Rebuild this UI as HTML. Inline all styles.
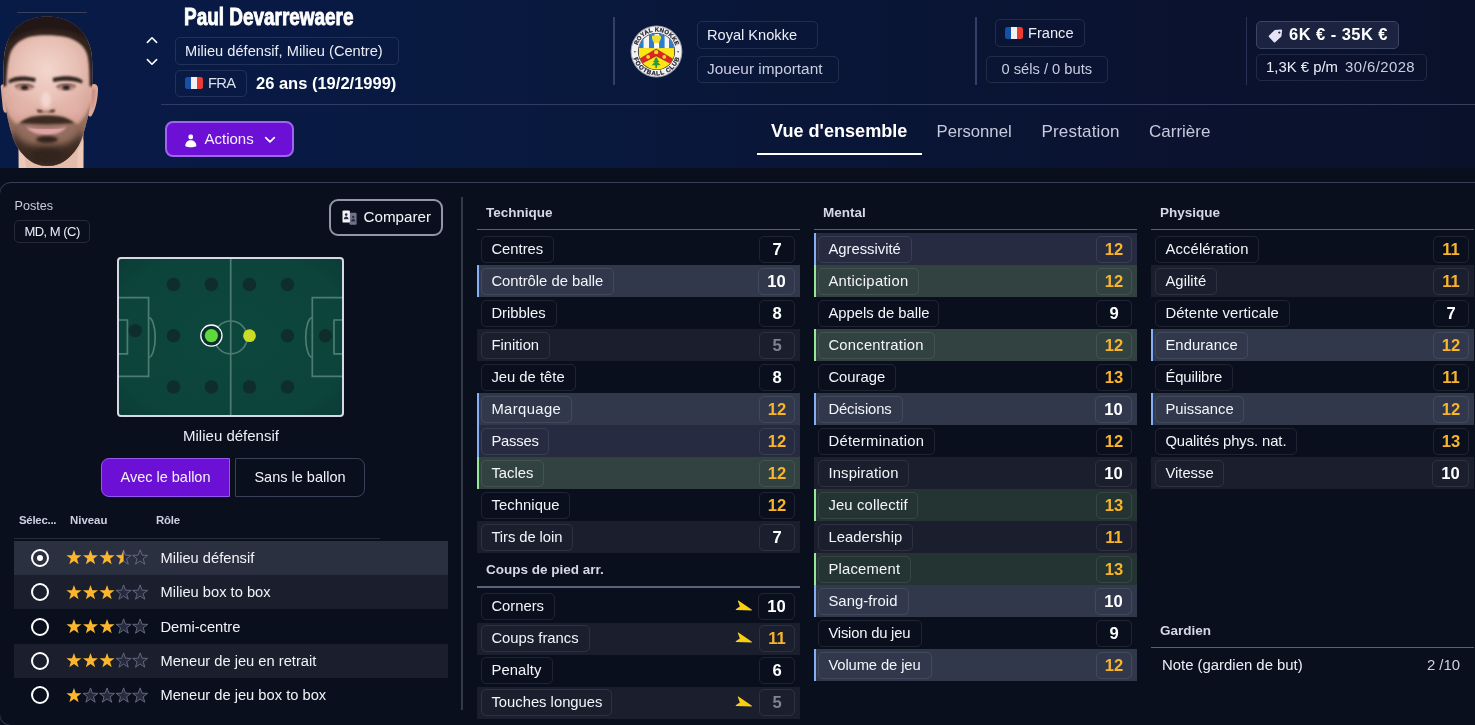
<!DOCTYPE html>
<html lang="fr"><head><meta charset="utf-8"><title>Paul Devarrewaere</title>
<style>
*{box-sizing:border-box;margin:0;padding:0}
html,body{width:1475px;height:725px;overflow:hidden;background:#0a0f1d;font-family:"Liberation Sans",sans-serif;color:#f2f3f8;font-size:14.8px}
.abs{position:absolute}
#wrap{position:absolute;left:0;top:0;width:1475px;height:725px;will-change:transform;overflow:hidden}
#hdr{position:absolute;left:0;top:0;width:1475px;height:168px;background:linear-gradient(90deg,#081b47 0%,#081a43 22%,#09173a 48%,#0a1331 75%,#0a112b 100%)}
.pill{position:absolute;border:1px solid rgba(255,255,255,.10);border-radius:5px;white-space:nowrap;display:flex;align-items:center;padding-left:9px;color:#eceef6}
.vdiv{position:absolute;top:17px;width:2px;height:68px;background:#333f68}
#hline{position:absolute;left:161px;top:104px;width:1314px;height:1px;background:linear-gradient(90deg,#2f3b64,#363f5e)}
#panel{position:absolute;left:-1px;top:182px;width:1480px;height:544px;border:1px solid #3a3f55;border-radius:12px 0 0 12px;background:#0a0f1d}
.col{position:absolute;top:197px;width:323px}
.col h3{position:absolute;left:9px;top:9px;font-size:13.5px;font-weight:700;color:#d5d8e8;white-space:nowrap}
.col .ln{position:absolute;left:0;top:32px;width:100%;height:1px;background:#5c6078}
.rows{position:absolute;left:0;top:36px;width:100%}
.r{position:relative;height:32px;width:100%}
.r.a{background:#1a1e2d}
.r.b{background:#262b41}.r.b.a{background:#31384c}
.r.g{background:#243432}.r.g.a{background:#324240}
.r.b:before,.r.g:before{content:"";position:absolute;left:0;top:0;width:2px;height:100%;background:#86aef5}
.r.g:before{background:#98e69a}
.r .n{position:absolute;left:4px;top:3px;height:27px;border:1px solid rgba(255,255,255,.09);border-radius:5px;padding:0 0 0 9.4px;line-height:24px;white-space:nowrap;color:#f4f5fa;overflow:hidden}
.r .v{position:absolute;right:5px;top:3px;width:36px;height:27px;border:1px solid rgba(255,255,255,.09);border-radius:5px;text-align:center;line-height:25.2px;font-weight:700;font-size:16.6px;color:#fff}
.r .v.o{color:#f8b42b}
.r .v.d{color:#7f8494}

.col h3{top:8px}
.gk{position:absolute;left:11px;top:457px;width:298px;display:flex;justify-content:space-between;color:#eceef6;line-height:22px;font-size:14.9px}
.gk .gv{color:#cfd2e0}
.ar{position:absolute;left:258px;top:9px;width:18px;height:12px;fill:#f8cf12}
.sp .n,.sp .v{top:2px;height:27px;line-height:24.6px}
.sp .v{line-height:26.4px}
#name{position:absolute;left:184px;top:2px;font-size:24px;font-weight:700;line-height:30px;color:#fff;transform:scaleX(.789);transform-origin:0 0;white-space:nowrap;letter-spacing:0;-webkit-text-stroke:.9px #fff}
.chev{position:absolute;fill:none;stroke:#fff;stroke-width:1.6;stroke-linecap:round;stroke-linejoin:round}
.flag{display:inline-block;width:18px;height:12px;border-radius:2.5px;background:linear-gradient(90deg,#1450a8 0 33%,#f1f1f4 33% 66%,#ec3b33 66% 100%);margin-right:5px;flex:none}
#age{position:absolute;left:256px;top:72px;font-size:16.5px;font-weight:700;line-height:22px;white-space:nowrap;color:#fff}
#actions{position:absolute;left:165px;top:121px;width:129px;height:36px;border:2px solid #a163f0;border-radius:8px;background:#6c10d6}
#actions span{position:absolute;left:37.5px;top:6px;line-height:20px;font-size:15px;color:#f4efff}
.tab{position:absolute;top:120px;line-height:24px;font-size:17px;color:#c6cadc;white-space:nowrap}
.tab.on{font-weight:700;font-size:18.1px;color:#fff;top:118.8px}
#tabln{position:absolute;left:757px;top:153px;width:165px;height:2px;background:#fff}
.dim{color:#c9cde0}
#postes{position:absolute;left:14.5px;top:197.7px;font-size:12.6px;line-height:16px;color:#c8ccdc}
#mdpill{left:14px;top:220px;width:75.5px;height:23px;font-size:13px;letter-spacing:-.5px;padding-left:9.4px;border-color:rgba(255,255,255,.11)}
#cmp{position:absolute;left:329px;top:199px;width:114px;height:37px;border:2px solid #9396ab;border-radius:9px}
#cmp span{position:absolute;left:32.5px;top:5.6px;font-size:15.2px;line-height:20px;color:#f4f5fa}
#pitch{position:absolute;left:117px;top:257px;width:227px;height:160px}
#plabel{position:absolute;left:131px;width:200px;top:425px;text-align:center;line-height:22px;font-size:15px;color:#eceef6}
.btn{position:absolute;top:458px;height:39px;line-height:37px;text-align:center;font-size:14.5px;color:#f2f3f8;border:1px solid #3b4056}
#b1{left:101px;width:129px;background:#6c10d6;border-color:#9556f2;border-radius:8px 0 0 8px}
#b2{left:235px;width:130px;border-radius:0 8px 8px 0}
.th{position:absolute;top:512px;line-height:16px;font-size:11.4px;font-weight:700;color:#cdd0e2;white-space:nowrap}
#thln{position:absolute;left:14px;top:538px;width:366px;height:1px;background:#272c3c}
.rr{position:absolute;left:14px;width:434px;height:34.35px}
.rr.a{background:#1a1e2d}.rr.s{background:#2b3040}
.rr .rad{position:absolute;left:17px;top:8px;width:18px;height:18px;border:2px solid #fff;border-radius:50%}
.rr.s .rad:after{content:"";position:absolute;left:4px;top:4px;width:6px;height:6px;border-radius:50%;background:#fff}
.rr .st{position:absolute;left:52px;top:8.5px;width:84px;height:17px}
.rr .nm{position:absolute;left:146.4px;top:6px;line-height:22px;font-size:14.7px;color:#f2f3f8;white-space:nowrap}
#scr{position:absolute;left:461px;top:197px;width:2px;height:513px;background:#33384b}
</style></head><body>
<div id="wrap">
<div id="hdr">
<div id="hline"></div>
<div class="abs" style="left:17px;top:12px;width:70px;height:1px;background:rgba(200,170,160,.26)"></div>
<!--FACE_START--><svg id="face" class="abs" style="left:0;top:0" width="110" height="168" viewBox="0 0 110 168">
<defs>
<filter id="f1" x="-20%" y="-20%" width="140%" height="140%"><feGaussianBlur stdDeviation="0.8"/></filter>
<filter id="f2" x="-30%" y="-30%" width="160%" height="160%"><feGaussianBlur stdDeviation="1.8"/></filter>
<filter id="f3" x="-40%" y="-40%" width="180%" height="180%"><feGaussianBlur stdDeviation="3.5"/></filter>
<filter id="f4" x="-30%" y="-30%" width="160%" height="160%"><feGaussianBlur stdDeviation="1.2"/></filter><clipPath id="fclip"><rect x="0" y="0" width="110" height="168"/></clipPath>
<clipPath id="head"><path d="M47 16.6 C 22 16.6 5.5 33 4 58 C 3.2 72 3 88 4.5 100 C 6 112 9 126 13 138 C 17 149 24 157 32 162 C 38 165.5 43 166 47.5 166 C 52 166 57 165.5 63 162 C 71 157 78 149 82 138 C 86 126 89.5 112 91 100 C 92.5 88 92.6 72 92 58 C 90.5 33 72 16.6 47 16.6Z"/></clipPath>
<radialGradient id="sk" cx="47" cy="70" r="60" gradientUnits="userSpaceOnUse"><stop offset="0" stop-color="#f2d6cd"/><stop offset=".5" stop-color="#e8c0b5"/><stop offset="1" stop-color="#d3a092"/></radialGradient>
</defs>
<g clip-path="url(#fclip)">
<path d="M18.6 130 L18.8 168 L83.3 168 L83.4 130Z" fill="#e4bcab"/>
<path d="M18.6 140 L18.8 168 L26 168 L24 150Z M83.4 140 L83.3 168 L77 168 L78 150Z" fill="#efc9b8"/>
<path d="M0.8 88 C 0 84 4 83 5.5 86 L7 112 C 5 114 3.5 112 2.8 108Z" fill="#d9a596"/>
<path d="M89 88 C 92 82 98.5 83 98 90 C 97.6 100 95.5 110 91.5 116 C 89.5 117.5 88 116 88 114Z" fill="#dda999"/>
<path d="M91.5 90 C 94 87 96 89 95.5 93 C 95 100 93.5 106 91.5 110Z" fill="#c98f82" filter="url(#f1)"/>
<g clip-path="url(#head)">
<rect x="0" y="10" width="100" height="160" fill="url(#sk)"/>
<ellipse cx="22" cy="108" rx="11" ry="9" fill="#e7b4ae" opacity=".55" filter="url(#f3)"/>
<ellipse cx="72" cy="108" rx="11" ry="9" fill="#e7b4ae" opacity=".55" filter="url(#f3)"/>
<!-- hair -->
<path d="M-2 88 L-2 10 L100 10 L100 88 L89.4 86 C 89.6 76 89.2 64 87.6 56 C 85.6 47 78 40 66 37 C 57 35 40 34.6 31 36.6 C 20 39 12 46 9.4 56 C 7.4 64 6.4 76 6.4 86Z" fill="#30241f" filter="url(#f4)"/>
<path d="M-2 52 L-2 10 L100 10 L100 52 C 93 41 81 33 63 30 C 51 28.6 38 29 30 31 C 17 34 7 41 -2 52Z" fill="#221916" filter="url(#f1)"/>
<!-- beard -->
<path d="M3 102 C 6 112 10 119 16 124 C 22 122.4 26 118.4 32 116.8 C 40 115 54 115 62 116.8 C 68 118.4 72 122.4 78 124 C 84 119 88 112 92 102 L 93 170 L 2 170Z" fill="#7a5a4b" opacity=".72" filter="url(#f2)"/>
<path d="M12 128 C 18 142 28 146 47 146 C 66 146 76 142 82 128 L 86 170 L 8 170Z" fill="#3d2a22" filter="url(#f3)"/>
<path d="M19.5 123.4 C 25 118.2 34 115.8 47 115.8 C 60 115.8 69 118.2 74.5 123.4 C 68 123 58 124.2 47 124.2 C 36 124.2 26 123 19.5 123.4Z" fill="#3b2922" filter="url(#f1)"/>
<path d="M26 125.8 C 34 127.6 40 128 46.5 128 C 53 128 59 127.6 67 125.8 C 64 132.4 55.5 135 46.5 135 C 37.5 135 29 132.4 26 125.8Z" fill="#dca4a5" filter="url(#f1)"/>
<path d="M26 126 C 36 128.6 57 128.6 67 126" stroke="#94605a" stroke-width="1.4" fill="none" filter="url(#f1)"/>
<ellipse cx="47" cy="139.5" rx="11" ry="3.4" fill="#33231d" filter="url(#f2)"/>
<ellipse cx="47" cy="156" rx="16" ry="8" fill="#2f201a" opacity=".8" filter="url(#f3)"/>
</g>
<!-- brows -->
<path d="M8.4 80.6 C 13 76 24 75.2 35.6 78 L 35.2 82 C 25 79.8 15 80.4 9.2 83.4Z" fill="#2e201c" filter="url(#f1)"/>
<path d="M52.8 78 C 64 75 77 75.6 82.8 80.8 L 81.8 83.4 C 75 80 64 80 53.2 82Z" fill="#2e201c" filter="url(#f1)"/>
<!-- eyes -->
<ellipse cx="24.4" cy="87.2" rx="9.4" ry="3.6" fill="#b88a82" filter="url(#f1)"/>
<ellipse cx="66" cy="87.2" rx="9.4" ry="3.6" fill="#b88a82" filter="url(#f1)"/>
<ellipse cx="24.6" cy="87.5" rx="3.6" ry="2.5" fill="#2c1f1e" filter="url(#f1)"/>
<ellipse cx="66.2" cy="87.5" rx="3.6" ry="2.5" fill="#2c1f1e" filter="url(#f1)"/>
<path d="M15 86.2 C 20 83.6 29 83.8 34 87" stroke="#5b3d38" stroke-width="1.2" fill="none" filter="url(#f1)"/>
<path d="M56.5 87 C 61 83.8 70 83.6 76 86.2" stroke="#5b3d38" stroke-width="1.2" fill="none" filter="url(#f1)"/>
<!-- nose -->
<path d="M36.5 108 C 37 113 42 113 45.5 112.6 C 49 113 54.5 113 55 108 C 52 111 49 111.4 45.5 111.2 C 42 111.4 39.5 111 36.5 108Z" fill="#8e5f58" filter="url(#f1)"/>
<ellipse cx="39.8" cy="111.2" rx="2.6" ry="1.4" fill="#5a3732" filter="url(#f1)"/>
<ellipse cx="52.4" cy="111.2" rx="2.6" ry="1.4" fill="#5a3732" filter="url(#f1)"/>
<ellipse cx="46" cy="100" rx="5" ry="8" fill="#f6dcd6" opacity=".8" filter="url(#f2)"/>
</g></svg><!--FACE_END-->
<div id="name">Paul Devarrewaere</div>
<svg class="chev" style="left:146px;top:36px" width="12" height="8" viewBox="0 0 12 8"><path d="M1.4 6.4 L6 1.8 L10.6 6.4"/></svg>
<svg class="chev" style="left:146px;top:58px" width="12" height="8" viewBox="0 0 12 8"><path d="M1.4 1.6 L6 6.2 L10.6 1.6"/></svg>
<div class="pill" style="left:175px;top:37px;width:224px;height:27.5px;font-size:14.65px">Milieu défensif, Milieu (Centre)</div>
<div class="pill" style="left:175px;top:70px;width:72px;height:26.5px;color:#dcdfec;letter-spacing:-.7px"><i class="flag"></i>FRA</div>
<div id="age">26 ans (19/2/1999)</div>
<div id="actions"><svg class="abs" style="left:17px;top:10px" width="14" height="15" viewBox="0 0 14 15"><rect x="4.5" y="1.6" width="4.5" height="4.6" rx="1.7" fill="#fff"/><path d="M1.2 12.9 C1.4 9.2 3.8 7.2 6.8 7.2 C9.8 7.2 12.2 9.2 12.4 12.9 C10.8 13.9 8.6 14.2 6.8 14.2 C5 14.2 2.8 13.9 1.2 12.9Z" fill="#fff"/></svg><span>Actions</span><svg class="chev" style="left:96.5px;top:13px" width="12" height="8" viewBox="0 0 12 8"><path d="M1.7 1.6 L6 5.9 L10.3 1.6" stroke-width="1.7"/></svg></div>
<div class="vdiv" style="left:613px"></div>
<!--LOGO_START--><svg class="abs" style="left:628px;top:23px" width="57" height="57" viewBox="-28.5 -28.5 57 57">
<defs><clipPath id="lc"><circle r="18"/></clipPath><filter id="lb" x="-10%" y="-10%" width="120%" height="120%"><feGaussianBlur stdDeviation="0.35"/></filter>
<path id="tp1" d="M-19.9 0 A19.9 19.9 0 0 1 19.9 0"/><path id="tp2" d="M-23.9 0 A23.9 23.9 0 0 0 23.9 0"/></defs>
<g filter="url(#lb)">
<circle r="25.9" fill="#9a9ca8"/><circle r="24.9" fill="#f2f2f4"/>
<circle r="18.6" fill="#2a2a30"/>
<g clip-path="url(#lc)">
<rect x="-18" y="-18" width="36" height="15" fill="#f4f4f6"/>
<rect x="-18" y="-18" width="5" height="15" fill="#2a7ccc"/><rect x="-7.5" y="-18" width="5.5" height="15" fill="#2a7ccc"/><rect x="2.6" y="-18" width="5.5" height="15" fill="#2a7ccc"/><rect x="12.5" y="-18" width="6" height="15" fill="#2a7ccc"/>
<rect x="-18" y="-3.4" width="36" height="22" fill="#ffe412"/>
<path d="M-0.3 -2.6 L17.5 8.2 L15.2 12.6 L-0.3 4.4 L-15.8 12.6 L-18.1 8.2Z" fill="#e0202c" stroke="#5a2a20" stroke-width=".5"/>
<circle cx="-0.3" cy="0.7" r="2.1" fill="#ffd81a"/><circle cx="-8.4" cy="5.4" r="1.9" fill="#ffd81a"/><circle cx="7.8" cy="5.4" r="1.9" fill="#ffd81a"/>
<path d="M-0.3 5.6 L1.6 8 L0.8 8 L3 10.6 L1.2 10.6 L4.2 13.8 L0.6 13.8 L0.6 16.6 L-1.2 16.6 L-1.2 13.8 L-4.8 13.8 L-1.8 10.6 L-3.6 10.6 L-1.4 8 L-2.2 8Z" fill="#2a9a3c"/>
<path d="M-4.6 -14.6 C-4.6 -16 -2.8 -16.4 -2.2 -15.4 C-1.6 -16.8 1 -16.8 1.6 -15.4 C2.2 -16.4 4.6 -16 4.6 -14.4 C4.6 -11.8 3 -10.6 2.4 -8.6 L-2.6 -8.6 C-3.2 -10.6 -4.6 -11.8 -4.6 -14.6Z" fill="#f3e02c"/>
<rect x="-2.4" y="-8.6" width="4.6" height="5.4" fill="#fafafa"/>
</g>
<g font-family="Liberation Sans" font-weight="700" fill="#26262e" stroke="#26262e" stroke-width=".25" text-rendering="geometricPrecision">
<text font-size="5.9" letter-spacing=".25"><textPath href="#tp1" startOffset="6.2">ROYAL KNOKKE</textPath></text>
<text font-size="6.2" letter-spacing=".72"><textPath href="#tp2" startOffset="6.7">FOOTBALL CLUB</textPath></text>
</g>
<circle cx="-21.6" cy="0.3" r=".8" fill="#2b2b33"/><circle cx="21.6" cy="0.3" r=".8" fill="#2b2b33"/>
</g></svg><!--LOGO_END-->
<div class="pill" style="left:697px;top:21px;width:121px;height:27.5px;font-size:14.6px">Royal Knokke</div>
<div class="pill dim" style="left:697px;top:56px;width:142px;height:26.5px;font-size:15.4px">Joueur important</div>
<div class="vdiv" style="left:975px"></div>
<div class="pill" style="left:995px;top:19px;width:90px;height:27.5px;font-size:14.65px"><i class="flag"></i>France</div>
<div class="pill dim" style="left:986px;top:56px;width:122px;height:26.5px;font-size:14.7px;padding-left:14.5px">0 séls / 0 buts</div>
<div class="vdiv" style="left:1246px;width:1px;background:#273052"></div>
<div class="pill" style="left:1256px;top:21px;width:143px;height:27.5px;background:#1b2340;border-color:#3b4564;font-weight:700;font-size:16.5px;letter-spacing:.45px;color:#fff;padding-left:32px"><svg class="abs" style="left:10.5px;top:7px" width="15" height="14" viewBox="0 0 15 14"><path d="M6.8 1.1 L13 0.6 C13.7 0.55 14.2 1.1 14.1 1.8 L13.4 7.6 L7.2 13.2 C6.7 13.6 6 13.6 5.6 13.1 L1 8 C0.6 7.5 0.6 6.8 1.1 6.4 Z M11.3 2.4 a1.1 1.1 0 1 0 .01 0Z" fill="#e6e2f8" fill-rule="evenodd"/></svg>6K € - 35K €</div>
<div class="pill" style="left:1256px;top:54px;width:171px;height:26.5px;font-size:14.9px">1,3K € p/m<span class="dim" style="margin-left:7px;letter-spacing:.42px">30/6/2028</span></div>
<div class="tab on" style="left:771px">Vue d'ensemble</div><div id="tabln"></div>
<div class="tab" style="left:936.5px;font-size:16.7px">Personnel</div>
<div class="tab" style="left:1041.5px;letter-spacing:.17px">Prestation</div>
<div class="tab" style="left:1149px">Carrière</div>
</div>
<div id="panel"></div>
<!--LEFT_START-->
<div id="postes">Postes</div>
<div class="pill" id="mdpill">MD, M (C)</div>
<div id="cmp"><svg class="abs" style="left:10.5px;top:9px" width="16" height="16" viewBox="0 0 16 16"><rect x="7.4" y="2.8" width="7.2" height="12" rx="1.2" fill="#6f7388"/><rect x="0.5" y="0.4" width="7.4" height="12.2" rx="1.2" fill="#f3f3fa"/><circle cx="4.2" cy="4.6" r="1.35" fill="#2a2e40"/><path d="M1.9 9.3 C1.9 7.4 3 6.5 4.2 6.5 C5.4 6.5 6.5 7.4 6.5 9.3Z" fill="#2a2e40"/><circle cx="11.2" cy="7" r="1.2" fill="#2a2e40"/><path d="M9.1 11.4 C9.1 9.7 10.1 8.9 11.2 8.9 C12.3 8.9 13.3 9.7 13.3 11.4Z" fill="#2a2e40"/></svg><span>Comparer</span></div>
<svg id="pitch" viewBox="0 0 227 160"><defs><radialGradient id="pg" cx="50%" cy="50%" r="75%"><stop offset="0" stop-color="#0c463d"/><stop offset=".7" stop-color="#0c443b"/><stop offset="1" stop-color="#0a3a34"/></radialGradient></defs>
<rect x="1" y="1" width="225" height="158" rx="3" fill="url(#pg)" stroke="#d6d9e4" stroke-width="2"/>
<g fill="none" stroke="#4c7c73" stroke-width="1.7">
<path d="M113.7 2 V158"/><circle cx="113.7" cy="80.4" r="16.4"/>
<path d="M2 40.6 H31.6 V119.3 H2"/><path d="M2 63 H10.4 V96.8 H2"/><path d="M31.6 60.6 A 6.6 19.8 0 0 1 31.6 100.2"/>
<path d="M225 40.6 H195.3 V119.3 H225"/><path d="M225 63 H217 V96.8 H225"/><path d="M195.3 60.6 A 6.6 19.8 0 0 0 195.3 100.2"/>
</g>
<circle cx="56.5" cy="27.5" r="6.7" fill="#0e2d2c"/><circle cx="94.4" cy="27.5" r="6.7" fill="#0e2d2c"/><circle cx="132.5" cy="27.5" r="6.7" fill="#0e2d2c"/><circle cx="170.5" cy="27.5" r="6.7" fill="#0e2d2c"/><circle cx="56.5" cy="129.9" r="6.7" fill="#0e2d2c"/><circle cx="94.4" cy="129.9" r="6.7" fill="#0e2d2c"/><circle cx="132.5" cy="129.9" r="6.7" fill="#0e2d2c"/><circle cx="170.5" cy="129.9" r="6.7" fill="#0e2d2c"/><circle cx="56.5" cy="78.7" r="6.7" fill="#0e2d2c"/><circle cx="170.5" cy="78.7" r="6.7" fill="#0e2d2c"/><circle cx="208.4" cy="78.7" r="6.7" fill="#0e2d2c"/><circle cx="18.3" cy="73.6" r="6.7" fill="#0e2d2c"/>
<circle cx="94.4" cy="78.6" r="10.6" fill="#0b2f2c" stroke="#fff" stroke-width="1.3"/><circle cx="94.4" cy="78.6" r="6.6" fill="#5fd93b"/>
<circle cx="132.5" cy="78.7" r="6.4" fill="#c9dd27"/>
</svg>
<div id="plabel">Milieu défensif</div>
<div class="btn" id="b1">Avec le ballon</div><div class="btn" id="b2">Sans le ballon</div>
<div class="th" style="left:19px;letter-spacing:-.25px">Sélec...</div><div class="th" style="left:70px">Niveau</div><div class="th" style="left:156px;letter-spacing:-.2px">Rôle</div>
<div id="thln"></div>
<div class="rr s" style="top:540.80px"><i class="rad"></i><svg class="st" viewBox="0 0 84 17"><path transform="translate(-0.05,0.6)" d="M8.00 0.30 L9.88 5.61 L15.51 5.76 L11.04 9.19 L12.64 14.59 L8.00 11.40 L3.36 14.59 L4.96 9.19 L0.49 5.76 L6.12 5.61 Z" fill="#fbb62d"/><path transform="translate(16.50,0.6)" d="M8.00 0.30 L9.88 5.61 L15.51 5.76 L11.04 9.19 L12.64 14.59 L8.00 11.40 L3.36 14.59 L4.96 9.19 L0.49 5.76 L6.12 5.61 Z" fill="#fbb62d"/><path transform="translate(33.05,0.6)" d="M8.00 0.30 L9.88 5.61 L15.51 5.76 L11.04 9.19 L12.64 14.59 L8.00 11.40 L3.36 14.59 L4.96 9.19 L0.49 5.76 L6.12 5.61 Z" fill="#fbb62d"/><path transform="translate(49.60,0.6)" d="M8.00 0.30 L9.88 5.61 L15.51 5.76 L11.04 9.19 L12.64 14.59 L8.00 11.40 L3.36 14.59 L4.96 9.19 L0.49 5.76 L6.12 5.61 Z" stroke="#6a6e84" stroke-width=".9" fill="#262a3c"/><path transform="translate(49.60,0.6)" d="M8.00 0.30 L8.00 11.40 L3.36 14.59 L4.96 9.19 L0.49 5.76 L6.12 5.61 Z" fill="#fbb62d"/><path transform="translate(66.15,0.6)" d="M8.00 0.30 L9.88 5.61 L15.51 5.76 L11.04 9.19 L12.64 14.59 L8.00 11.40 L3.36 14.59 L4.96 9.19 L0.49 5.76 L6.12 5.61 Z" stroke="#6a6e84" stroke-width=".9" fill="#262a3c"/></svg><span class="nm">Milieu défensif</span></div>
<div class="rr a" style="top:575.15px"><i class="rad"></i><svg class="st" viewBox="0 0 84 17"><path transform="translate(-0.05,0.6)" d="M8.00 0.30 L9.88 5.61 L15.51 5.76 L11.04 9.19 L12.64 14.59 L8.00 11.40 L3.36 14.59 L4.96 9.19 L0.49 5.76 L6.12 5.61 Z" fill="#fbb62d"/><path transform="translate(16.50,0.6)" d="M8.00 0.30 L9.88 5.61 L15.51 5.76 L11.04 9.19 L12.64 14.59 L8.00 11.40 L3.36 14.59 L4.96 9.19 L0.49 5.76 L6.12 5.61 Z" fill="#fbb62d"/><path transform="translate(33.05,0.6)" d="M8.00 0.30 L9.88 5.61 L15.51 5.76 L11.04 9.19 L12.64 14.59 L8.00 11.40 L3.36 14.59 L4.96 9.19 L0.49 5.76 L6.12 5.61 Z" fill="#fbb62d"/><path transform="translate(49.60,0.6)" d="M8.00 0.30 L9.88 5.61 L15.51 5.76 L11.04 9.19 L12.64 14.59 L8.00 11.40 L3.36 14.59 L4.96 9.19 L0.49 5.76 L6.12 5.61 Z" stroke="#6a6e84" stroke-width=".9" fill="#262a3c"/><path transform="translate(66.15,0.6)" d="M8.00 0.30 L9.88 5.61 L15.51 5.76 L11.04 9.19 L12.64 14.59 L8.00 11.40 L3.36 14.59 L4.96 9.19 L0.49 5.76 L6.12 5.61 Z" stroke="#6a6e84" stroke-width=".9" fill="#262a3c"/></svg><span class="nm">Milieu box to box</span></div>
<div class="rr " style="top:609.50px"><i class="rad"></i><svg class="st" viewBox="0 0 84 17"><path transform="translate(-0.05,0.6)" d="M8.00 0.30 L9.88 5.61 L15.51 5.76 L11.04 9.19 L12.64 14.59 L8.00 11.40 L3.36 14.59 L4.96 9.19 L0.49 5.76 L6.12 5.61 Z" fill="#fbb62d"/><path transform="translate(16.50,0.6)" d="M8.00 0.30 L9.88 5.61 L15.51 5.76 L11.04 9.19 L12.64 14.59 L8.00 11.40 L3.36 14.59 L4.96 9.19 L0.49 5.76 L6.12 5.61 Z" fill="#fbb62d"/><path transform="translate(33.05,0.6)" d="M8.00 0.30 L9.88 5.61 L15.51 5.76 L11.04 9.19 L12.64 14.59 L8.00 11.40 L3.36 14.59 L4.96 9.19 L0.49 5.76 L6.12 5.61 Z" fill="#fbb62d"/><path transform="translate(49.60,0.6)" d="M8.00 0.30 L9.88 5.61 L15.51 5.76 L11.04 9.19 L12.64 14.59 L8.00 11.40 L3.36 14.59 L4.96 9.19 L0.49 5.76 L6.12 5.61 Z" stroke="#6a6e84" stroke-width=".9" fill="#262a3c"/><path transform="translate(66.15,0.6)" d="M8.00 0.30 L9.88 5.61 L15.51 5.76 L11.04 9.19 L12.64 14.59 L8.00 11.40 L3.36 14.59 L4.96 9.19 L0.49 5.76 L6.12 5.61 Z" stroke="#6a6e84" stroke-width=".9" fill="#262a3c"/></svg><span class="nm">Demi-centre</span></div>
<div class="rr a" style="top:643.85px"><i class="rad"></i><svg class="st" viewBox="0 0 84 17"><path transform="translate(-0.05,0.6)" d="M8.00 0.30 L9.88 5.61 L15.51 5.76 L11.04 9.19 L12.64 14.59 L8.00 11.40 L3.36 14.59 L4.96 9.19 L0.49 5.76 L6.12 5.61 Z" fill="#fbb62d"/><path transform="translate(16.50,0.6)" d="M8.00 0.30 L9.88 5.61 L15.51 5.76 L11.04 9.19 L12.64 14.59 L8.00 11.40 L3.36 14.59 L4.96 9.19 L0.49 5.76 L6.12 5.61 Z" fill="#fbb62d"/><path transform="translate(33.05,0.6)" d="M8.00 0.30 L9.88 5.61 L15.51 5.76 L11.04 9.19 L12.64 14.59 L8.00 11.40 L3.36 14.59 L4.96 9.19 L0.49 5.76 L6.12 5.61 Z" fill="#fbb62d"/><path transform="translate(49.60,0.6)" d="M8.00 0.30 L9.88 5.61 L15.51 5.76 L11.04 9.19 L12.64 14.59 L8.00 11.40 L3.36 14.59 L4.96 9.19 L0.49 5.76 L6.12 5.61 Z" stroke="#6a6e84" stroke-width=".9" fill="#262a3c"/><path transform="translate(66.15,0.6)" d="M8.00 0.30 L9.88 5.61 L15.51 5.76 L11.04 9.19 L12.64 14.59 L8.00 11.40 L3.36 14.59 L4.96 9.19 L0.49 5.76 L6.12 5.61 Z" stroke="#6a6e84" stroke-width=".9" fill="#262a3c"/></svg><span class="nm">Meneur de jeu en retrait</span></div>
<div class="rr " style="top:678.20px"><i class="rad"></i><svg class="st" viewBox="0 0 84 17"><path transform="translate(-0.05,0.6)" d="M8.00 0.30 L9.88 5.61 L15.51 5.76 L11.04 9.19 L12.64 14.59 L8.00 11.40 L3.36 14.59 L4.96 9.19 L0.49 5.76 L6.12 5.61 Z" fill="#fbb62d"/><path transform="translate(16.50,0.6)" d="M8.00 0.30 L9.88 5.61 L15.51 5.76 L11.04 9.19 L12.64 14.59 L8.00 11.40 L3.36 14.59 L4.96 9.19 L0.49 5.76 L6.12 5.61 Z" stroke="#6a6e84" stroke-width=".9" fill="#262a3c"/><path transform="translate(33.05,0.6)" d="M8.00 0.30 L9.88 5.61 L15.51 5.76 L11.04 9.19 L12.64 14.59 L8.00 11.40 L3.36 14.59 L4.96 9.19 L0.49 5.76 L6.12 5.61 Z" stroke="#6a6e84" stroke-width=".9" fill="#262a3c"/><path transform="translate(49.60,0.6)" d="M8.00 0.30 L9.88 5.61 L15.51 5.76 L11.04 9.19 L12.64 14.59 L8.00 11.40 L3.36 14.59 L4.96 9.19 L0.49 5.76 L6.12 5.61 Z" stroke="#6a6e84" stroke-width=".9" fill="#262a3c"/><path transform="translate(66.15,0.6)" d="M8.00 0.30 L9.88 5.61 L15.51 5.76 L11.04 9.19 L12.64 14.59 L8.00 11.40 L3.36 14.59 L4.96 9.19 L0.49 5.76 L6.12 5.61 Z" stroke="#6a6e84" stroke-width=".9" fill="#262a3c"/></svg><span class="nm">Meneur de jeu box to box</span></div>
<div id="scr"></div>
<!--LEFT_END-->
<!--COLS_START-->
<div class="col" style="left:477px"><h3>Technique</h3><div class="ln"></div><div class="rows">
<div class="r"><span class="n" style="width:73px">Centres</span><span class="v">7</span></div>
<div class="r a b"><span class="n" style="width:133px">Contrôle de balle</span><span class="v" style="width:37px">10</span></div>
<div class="r"><span class="n" style="width:76px">Dribbles</span><span class="v">8</span></div>
<div class="r a"><span class="n" style="width:69px">Finition</span><span class="v d">5</span></div>
<div class="r"><span class="n" style="width:95px">Jeu de tête</span><span class="v">8</span></div>
<div class="r a b"><span class="n" style="width:91px;letter-spacing:0.39px">Marquage</span><span class="v o">12</span></div>
<div class="r b"><span class="n" style="width:68px;letter-spacing:-0.21px">Passes</span><span class="v o">12</span></div>
<div class="r a g"><span class="n" style="width:63px">Tacles</span><span class="v o">12</span></div>
<div class="r"><span class="n" style="width:89px;letter-spacing:0.09px">Technique</span><span class="v o">12</span></div>
<div class="r a"><span class="n" style="width:92px;letter-spacing:-0.07px">Tirs de loin</span><span class="v">7</span></div>
</div>
<h3 style="top:365px">Coups de pied arr.</h3><div class="ln" style="top:389px;height:2px"></div><div class="rows sp" style="top:394px">
<div class="r"><span class="n" style="width:74px">Corners</span><svg class="ar" viewBox="0 0 18 12"><path d="M2.7 0.7 L3.4 0.6 L16.9 9.7 L16.7 10.5 L0.9 9.9 L0.7 9.2 L4.9 6.6 Z"/></svg><span class="v" style="width:37px">10</span></div>
<div class="r a"><span class="n" style="width:109px">Coups francs</span><svg class="ar" viewBox="0 0 18 12"><path d="M2.7 0.7 L3.4 0.6 L16.9 9.7 L16.7 10.5 L0.9 9.9 L0.7 9.2 L4.9 6.6 Z"/></svg><span class="v o">11</span></div>
<div class="r"><span class="n" style="width:72px;letter-spacing:0.12px">Penalty</span><span class="v">6</span></div>
<div class="r a"><span class="n" style="width:131px">Touches longues</span><svg class="ar" viewBox="0 0 18 12"><path d="M2.7 0.7 L3.4 0.6 L16.9 9.7 L16.7 10.5 L0.9 9.9 L0.7 9.2 L4.9 6.6 Z"/></svg><span class="v d">5</span></div>
</div></div>
<div class="col" style="left:814px"><h3>Mental</h3><div class="ln"></div><div class="rows">
<div class="r b"><span class="n" style="width:94px">Agressivité</span><span class="v o">12</span></div>
<div class="r a g"><span class="n" style="width:101px;letter-spacing:0.3px">Anticipation</span><span class="v o">12</span></div>
<div class="r"><span class="n" style="width:121px">Appels de balle</span><span class="v">9</span></div>
<div class="r a g"><span class="n" style="width:117px;letter-spacing:0.24px">Concentration</span><span class="v o">12</span></div>
<div class="r"><span class="n" style="width:78px">Courage</span><span class="v o">13</span></div>
<div class="r a b"><span class="n" style="width:85px;letter-spacing:-0.1px">Décisions</span><span class="v" style="width:37px">10</span></div>
<div class="r"><span class="n" style="width:117px;letter-spacing:0.3px">Détermination</span><span class="v o">12</span></div>
<div class="r a"><span class="n" style="width:91px;letter-spacing:0.17px">Inspiration</span><span class="v" style="width:37px">10</span></div>
<div class="r g"><span class="n" style="width:100px;letter-spacing:0.16px">Jeu collectif</span><span class="v o">13</span></div>
<div class="r a"><span class="n" style="width:95px;letter-spacing:0.07px">Leadership</span><span class="v o">11</span></div>
<div class="r g"><span class="n" style="width:93px;letter-spacing:0.23px">Placement</span><span class="v o">13</span></div>
<div class="r a b"><span class="n" style="width:91px;letter-spacing:0.08px">Sang-froid</span><span class="v" style="width:37px">10</span></div>
<div class="r"><span class="n" style="width:104px;letter-spacing:-0.2px">Vision du jeu</span><span class="v">9</span></div>
<div class="r a b"><span class="n" style="width:114px;letter-spacing:-0.13px">Volume de jeu</span><span class="v o">12</span></div>
</div></div>
<div class="col" style="left:1151px"><h3>Physique</h3><div class="ln"></div><div class="rows">
<div class="r"><span class="n" style="width:104px;letter-spacing:0.15px">Accélération</span><span class="v o">11</span></div>
<div class="r a"><span class="n" style="width:62px;letter-spacing:0.07px">Agilité</span><span class="v o">11</span></div>
<div class="r"><span class="n" style="width:135px;letter-spacing:0.15px">Détente verticale</span><span class="v">7</span></div>
<div class="r a b"><span class="n" style="width:93px;letter-spacing:0.09px">Endurance</span><span class="v o">12</span></div>
<div class="r"><span class="n" style="width:78px;letter-spacing:-0.08px">Équilibre</span><span class="v o">11</span></div>
<div class="r a b"><span class="n" style="width:89px">Puissance</span><span class="v o">12</span></div>
<div class="r"><span class="n" style="width:142px;letter-spacing:-0.08px">Qualités phys. nat.</span><span class="v o">13</span></div>
<div class="r a"><span class="n" style="width:69px">Vitesse</span><span class="v" style="width:37px">10</span></div>
</div>
<h3 style="top:426.4px">Gardien</h3><div class="ln" style="top:450px"></div>
<div class="gk"><span>Note (gardien de but)</span><span class="gv">2 /10</span></div>
</div>
<!--COLS_END-->
</div>
</body></html>
